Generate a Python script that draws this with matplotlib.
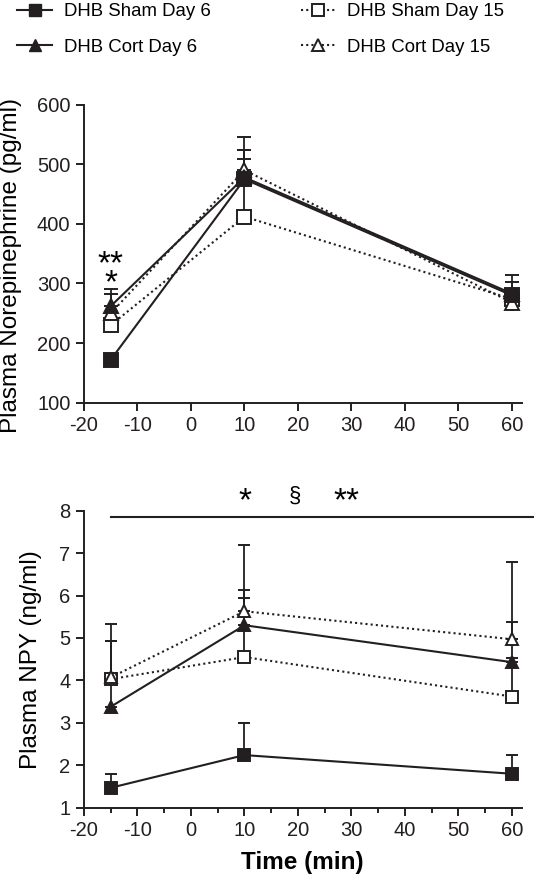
import matplotlib
matplotlib.use('Agg')
import matplotlib.pyplot as plt
from matplotlib.lines import Line2D
from matplotlib.ticker import MultipleLocator

plt.rcParams['font.family'] = ['Liberation Sans', 'DejaVu Sans']
plt.rcParams['axes.unicode_minus'] = False

# tiempos (min)
tiempo = [-15, 10, 60]

# Norepinefrina plasmatica (pg/ml) y error superior
ne_sham_d6 = [172, 475, 280]
ne_sham_d6_err = [6, 71, 34]
ne_cort_d6 = [262, 478, 283]
ne_cort_d6_err = [28, 46, 20]
ne_sham_d15 = [230, 412, 274]
ne_sham_d15_err = [12, 96, 8]
ne_cort_d15 = [250, 490, 268]
ne_cort_d15_err = [33, 34, 8]

# NPY plasmatico (ng/ml) y error superior
npy_sham_d6 = [1.47, 2.24, 1.80]
npy_sham_d6_err = [0.33, 0.76, 0.45]
npy_cort_d6 = [3.38, 5.30, 4.43]
npy_cort_d6_err = [1.56, 1.90, 0.94]
npy_sham_d15 = [4.03, 4.55, 3.62]
npy_sham_d15_err = [0.91, 1.40, 0.90]
npy_cort_d15 = [4.07, 5.63, 4.97]
npy_cort_d15_err = [1.27, 0.50, 1.83]

etiquetas = ['DHB Sham Day 6', 'DHB Cort Day 6', 'DHB Sham Day 15', 'DHB Cort Day 15']
negro = '#231f20'
punteado = (0, (1, 1.5))

fig = plt.figure(figsize=(5.34, 8.84), dpi=100)
ax1 = fig.add_axes([0.1573, 0.5445, 0.8195, 0.3371])
ax2 = fig.add_axes([0.1573, 0.0863, 0.8195, 0.3360])


def serie(ax, y, err, marker, filled, ls, ms):
	ax.errorbar(tiempo, y, yerr=[[0] * len(err), err], color=negro, ecolor=negro,
		elinewidth=1.3, capsize=ms * 0.55, capthick=1.3, linestyle=ls, linewidth=1.5,
		marker=marker, markersize=ms, markerfacecolor=negro if filled else 'white',
		markeredgecolor=negro, markeredgewidth=1.4, clip_on=False, zorder=3)


# panel superior
serie(ax1, ne_sham_d15, ne_sham_d15_err, 's', False, punteado, 9.5)
serie(ax1, ne_cort_d15, ne_cort_d15_err, '^', False, punteado, 9.5)
serie(ax1, ne_cort_d6, ne_cort_d6_err, '^', True, '-', 9.5)
serie(ax1, ne_sham_d6, ne_sham_d6_err, 's', True, '-', 9.5)
ax1.set_ylim(100, 600)
ax1.set_yticks(range(100, 601, 100))
ax1.set_ylabel('Plasma Norepinephrine (pg/ml)', fontsize=17.5)
ax1.yaxis.set_label_coords(-0.142, 0.46)
ax1.text(-15, 332, '**', ha='center', va='center', fontsize=24)
ax1.text(-15, 300, '*', ha='center', va='center', fontsize=24)

# panel inferior
serie(ax2, npy_sham_d15, npy_sham_d15_err, 's', False, punteado, 8)
serie(ax2, npy_cort_d15, npy_cort_d15_err, '^', False, punteado, 8)
serie(ax2, npy_cort_d6, npy_cort_d6_err, '^', True, '-', 8)
serie(ax2, npy_sham_d6, npy_sham_d6_err, 's', True, '-', 8)
ax2.set_ylim(1, 8)
ax2.set_yticks(range(1, 9))
ax2.set_ylabel('Plasma NPY (ng/ml)', fontsize=17.5)
ax2.yaxis.set_label_coords(-0.095, 0.5)
ax2.set_xlabel('Time (min)', fontsize=17.5, fontweight='bold', labelpad=8)
ax2.xaxis.set_minor_locator(MultipleLocator(5))
ax2.plot([-15, 64], [7.84, 7.84], color=negro, linewidth=1.5, clip_on=False)
ax2.text(10, 8.2, '*', ha='center', va='center', fontsize=24)
ax2.text(19.5, 8.33, '§', ha='center', va='center', fontsize=16)
ax2.text(29, 8.2, '**', ha='center', va='center', fontsize=24)

for ax in (ax1, ax2):
	ax.set_xlim(-20, 61.8)
	ax.set_xticks(range(-20, 61, 10))
	for s in ('top', 'right'):
		ax.spines[s].set_visible(False)
	for s in ('left', 'bottom'):
		ax.spines[s].set_linewidth(1.4)
		ax.spines[s].set_color(negro)
	ax.tick_params(which='major', length=5.8, width=1.4, color=negro, labelsize=14.5, labelcolor=negro, pad=4)
	ax.tick_params(which='minor', length=3.5, width=1.4, color=negro)

# leyenda
manijas = [
	Line2D([], [], color=negro, lw=1.5, marker='s', ms=9, mfc=negro, mec=negro),
	Line2D([], [], color=negro, lw=1.5, marker='^', ms=9, mfc=negro, mec=negro),
	Line2D([], [], color=negro, lw=1.5, ls=punteado, marker='s', ms=9, mfc='white', mec=negro, mew=1.4),
	Line2D([], [], color=negro, lw=1.5, ls=punteado, marker='^', ms=9, mfc='white', mec=negro, mew=1.4),
]
fig.legend(manijas, etiquetas, ncol=2, loc='upper left', bbox_to_anchor=(0.032, 0.9966),
	frameon=False, fontsize=13.4, handlelength=1.9, handletextpad=0.6, columnspacing=4.85,
	labelspacing=1.0, borderpad=0.0, borderaxespad=0.0)

plt.savefig('out.png', dpi=100)
